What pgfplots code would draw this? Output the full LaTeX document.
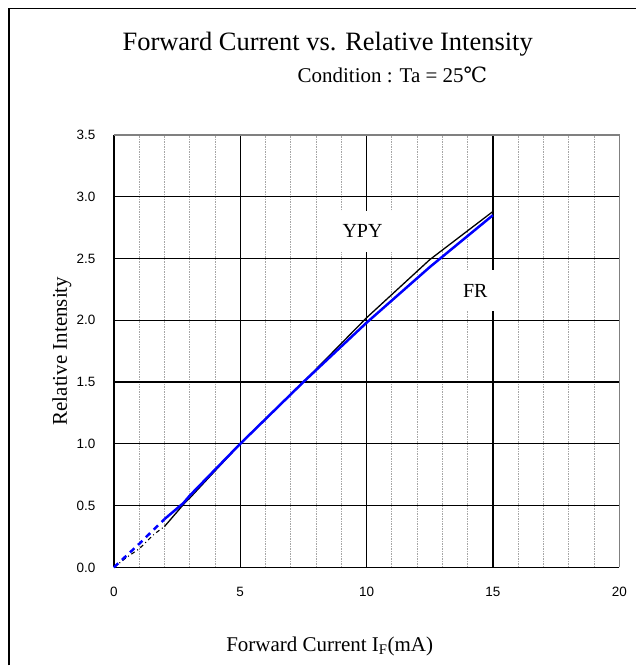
\documentclass[border=0pt]{standalone}
\usepackage{fontspec}
\setmainfont{Liberation Serif}
\setsansfont{Liberation Sans}
\newfontfamily\symfont{DejaVu Serif}
\usepackage{pgfplots}
\pgfplotsset{compat=1.18}
\begin{document}
\begin{tikzpicture}[x=1pt,y=1pt]
\path (0,0) rectangle (637,666);
\draw[black,line width=1.5pt] (9,0) -- (9,657.7) -- (637,657.7);
\begin{axis}[
  at={(114pt,98pt)}, anchor=south west,
  scale only axis, width=506pt, height=433pt,
  xmin=0, xmax=20, ymin=0, ymax=3.5,
  axis lines*=left,
  axis line style={black,line width=1.4pt},
  xtick={0,5,...,20}, minor xtick={1,...,19},
  ytick={0,0.5,...,3.5},
  major tick length=0pt, minor tick length=0pt,
  grid=both,
  major grid style={black,line width=1.4pt},
  minor grid style={gray!70,dash pattern=on 1.5pt off 1pt,line width=0.9pt},
  /pgf/number format/assume math mode=true,
  ticklabel style={font=\sffamily\fontsize{13.5}{16}\selectfont},
  yticklabel style={/pgf/number format/fixed,/pgf/number format/fixed zerofill,/pgf/number format/precision=1,anchor=east,xshift=-15pt},
  xticklabel style={yshift=-16pt},
  title={Forward Current vs. Relative Intensity},
  title style={at={(axis description cs:0.423,1)},anchor=center,yshift=85pt,font=\fontsize{26.5}{30}\selectfont},
  xlabel={Forward Current I\textsubscript{F}(mA)},
  xlabel style={at={(axis description cs:0.427,0)},anchor=center,yshift=-79pt,font=\fontsize{21}{24}\selectfont},
  ylabel={Relative Intensity},
  every axis y label/.style={at={(axis description cs:-0.103,0.5)},rotate=90,anchor=center,font=\fontsize{21}{24}\selectfont},
  clip=false,
]
\draw[gray,line width=1.4pt] (rel axis cs:0,1) -- (rel axis cs:1,1) -- (rel axis cs:1,0);
% YPY (black)
\addplot[black,line width=1.1pt,dash pattern=on 4pt off 3pt on 1pt off 3pt] coordinates {(0,0) (0.5,0.08) (1,0.15) (1.6,0.27) (2,0.33)};
\addplot[black,line width=1.3pt] coordinates {(2,0.33) (2.8,0.52) (3,0.56) (5,1.0) (7.5,1.5) (10,2.02) (12.5,2.49) (15,2.88)};
% FR (blue)
\addplot[blue,line width=2.5pt,dash pattern=on 6pt off 5pt] coordinates {(0,0) (1,0.19) (2,0.39)};
\addplot[blue,line width=2.5pt] coordinates {(2,0.39) (2.75,0.52) (3,0.58) (5,1.0) (7.5,1.5) (10,1.98) (12.5,2.43) (15,2.85)};
\node[fill=white,inner xsep=12pt,inner ysep=14pt,font=\fontsize{20}{24}\selectfont] at (axis cs:9.84,2.72) {YPY};
\node[fill=white,inner xsep=12pt,inner ysep=14pt,font=\fontsize{20}{24}\selectfont] at (axis cs:14.3,2.24) {FR};
\node[font=\fontsize{21}{24}\selectfont] at (axis description cs:0.551,1) [yshift=60pt] {Condition : Ta = 25{\symfont ℃}};
\end{axis}
\end{tikzpicture}
\end{document}
